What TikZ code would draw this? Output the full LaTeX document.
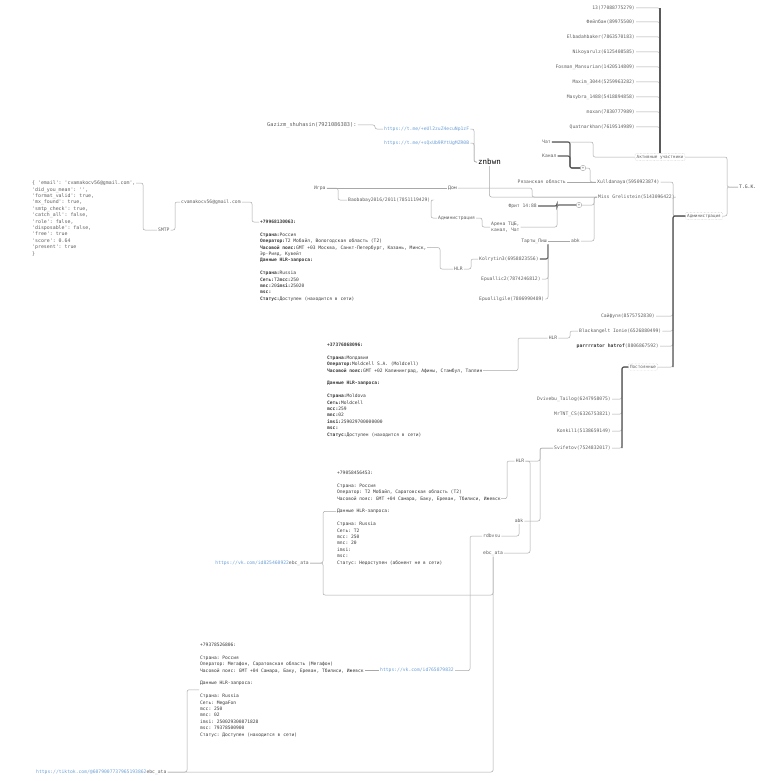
\documentclass[tikz,border=0pt]{standalone}
\usepackage{fontspec}
\setmonofont{DejaVu Sans Mono}
\usetikzlibrary{calc}

\definecolor{wirec}{HTML}{A8A8A8}
\definecolor{hotc}{HTML}{5A5A5A}
\definecolor{linkc}{HTML}{6C9FD6}
\definecolor{namec}{HTML}{606060}
\definecolor{cardc}{HTML}{3A3A3A}

\newcommand{\monosz}[1]{\ttfamily\fontsize{#1}{6.4}\selectfont}

\tikzset{
  wire/.style={draw=wirec, line width=0.5pt, rounded corners=2pt},
  hot/.style={draw=hotc, line width=1.2pt, rounded corners=2pt},
  lbl/.style={inner sep=1pt, text=namec, font=\monosz{4.7}},
  url/.style={lbl, text=linkc},
  grp/.style={lbl, draw=gray!50, densely dotted, rounded corners=1pt, inner sep=1.6pt, font=\monosz{4.3}},
  card/.style={inner sep=1pt, anchor=north west, align=left, text=cardc, font=\monosz{4.6}},
  joint/.style={circle, draw=wirec, inner sep=0pt, minimum size=5.5pt, text=namec, font=\monosz{4}},
  bus/.style={to path={-- (#1 |- \tikztostart) |- (\tikztotarget)}},
  hv/.style={to path={-| (\tikztotarget)}},
  vh/.style={to path={|- (\tikztotarget)}},
}

\begin{document}
\begin{tikzpicture}[x=1pt, y=-1pt, every edge/.append style={wire}]
\useasboundingbox (0,0) rectangle (779,781);

% x of the vertical runs
\coordinate (xR) at (727,0);
\coordinate (xK) at (593,0);
\coordinate (xC) at (570,0);
\coordinate (xX) at (590,0);
\coordinate (xA) at (673,0);
\coordinate (xM) at (594,0);
\coordinate (xN) at (532,0);
\coordinate (xF) at (557,0);
\coordinate (xD) at (482,0);
\coordinate (xB) at (431,0);
\coordinate (xG) at (338,0);
\coordinate (xL) at (375,0);
\coordinate (xZ) at (474,0);
\coordinate (xJ) at (143,0);
\coordinate (xS) at (175,0);
\coordinate (xE) at (252,0);
\coordinate (xH) at (440,0);
\coordinate (xI) at (471,0);
\coordinate (xQ) at (518,0);
\coordinate (xW) at (570,0);
\coordinate (xP) at (622,0);
\coordinate (xV) at (540,0);
\coordinate (xY) at (507,0);
\coordinate (xU) at (530,0);
\coordinate (xO) at (470,0);
\coordinate (xT) at (323,0);
\coordinate (xTT) at (187,0);

% chat members
\node[lbl, anchor=east] (n1) at (636,8) {13(77088775279)};
\node[lbl, anchor=east] (n2) at (636,22) {Фейлбан(89975500)};
\node[lbl, anchor=east] (n3) at (636,37) {Elbadahbaker(7863570183)};
\node[lbl, anchor=east] (n4) at (636,52) {Nikoyarulz(6125408585)};
\node[lbl, anchor=east] (n5) at (636,67) {Fosman\_Mansurian(1420514809)};
\node[lbl, anchor=east] (n6) at (636,82) {Maxim\_3044(5259963282)};
\node[lbl, anchor=east] (n7) at (636,97) {Masybra\_1488(5418894858)};
\node[lbl, anchor=east] (n8) at (636,112) {moxan(7830777989)};
\node[lbl, anchor=east] (n9) at (636,127) {Quatnarkhan(7619514989)};

\node[grp] (akt) at (660,157) {Активные участники};
\node[lbl, anchor=west, text=black!75] (root) at (738,187) {T.G.K.};
\node[grp] (adm2) at (704,216) {Администрация};

\node[lbl, anchor=west] (chat) at (541,142) {Чат};
\node[lbl, anchor=west] (canal) at (541,156) {Канал};
\node[joint] (plus1) at (583,168) {+};
\node[lbl, anchor=east] (ryaz) at (567,182) {Рязанская область};
\node[lbl, anchor=west] (xul) at (596,182) {Xulldanaya(5950923874)};
\node[lbl, anchor=west] (miss) at (597,197) {Miss Grelistein(5143096422)};
\node[joint] (plus2) at (579,205) {+};
\node[lbl, anchor=east] (frit) at (538,206) {Фрит 14:88};
\node[lbl, anchor=west, align=left] (arena) at (490,227) {Арена ТЦБ,\\канал, Чат};
\node[lbl, anchor=west] (adm1) at (437,218) {Администрация};
\node[lbl, anchor=west] (baob) at (347,200) {Baobabay2016/2011(7851119429)};
\node[lbl, anchor=west] (game) at (313,188) {Игра};
\node[lbl, anchor=west] (dom) at (447,188) {Дом};

\node[anchor=west, inner sep=1pt, font=\monosz{7.5}] (znb) at (477,162) {znbwn};
\node[lbl, anchor=west, font=\monosz{5.3}] (gaz) at (266,125) {Gazizm\_shuhasin(7921086383):};
\node[url, anchor=west] (link1) at (383,129) {https://t.me/+eUl2zuZ4ecuNp1zF};
\node[url, anchor=west] (link2) at (383,143) {https://t.me/+sQxUb9RYtUgMZR0B};

% e-mail check
\node[card, font=\monosz{4.9}, text=namec] (json) at (31,179.8) {\{ 'email': 'cvamakocv56@gmail.com',\\
'did\_you\_mean': '',\\
'format\_valid': true,\\
'mx\_found': true,\\
'smtp\_check': true,\\
'catch\_all': false,\\
'role': false,\\
'disposable': false,\\
'free': true\\
'score': 0.64\\
'present': true\\
\}};
\coordinate (jend) at (136,183);
\node[lbl, anchor=west] (smtp) at (157,230) {SMTP};
\node[lbl, anchor=west] (email) at (180,202) {cvamakocv56@gmail.com};

% phone cards
\node[card] (blk1) at (259,218.8) {\textbf{+79968130063:}\\[6.4pt]
\textbf{Страна:}Россия\\
\textbf{Оператор:}T2 Мобайл, Вологодская область (T2)\\
\textbf{Часовой пояс:}GMT +03 Москва, Санкт-Петербург, Казань, Минск,\\
Эр-Рияд, Кувейт\\
\textbf{Данные HLR-запроса:}\\[6.4pt]
\textbf{Страна:}Russia\\
\textbf{Сеть:}T2\textbf{mcc:}250\\
\textbf{mnc:}20\textbf{imsi:}25020\\
\textbf{msc:}\\
\textbf{Статус:}Доступен (находится в сети)};
\coordinate (b1top) at (259,222);
\coordinate (b1tz) at (427,247.6);

\node[card] (blk2) at (326,341.8) {\textbf{+37376868096:}\\[6.4pt]
\textbf{Страна:}Молдавия\\
\textbf{Оператор:}Moldcell S.A. (Moldcell)\\
\textbf{Часовой пояс:}GMT +02 Калининград, Афины, Стамбул, Таллин\\[6.4pt]
\textbf{Данные HLR-запроса:}\\[6.4pt]
\textbf{Страна:}Moldova\\
\textbf{Сеть:}Moldcell\\
\textbf{mcc:}259\\
\textbf{mnc:}02\\
\textbf{imsi:}259029700000000\\
\textbf{msc:}\\
\textbf{Статус:}Доступен (находится в сети)};
\coordinate (b2tz) at (483,370.6);

\node[card] (blk3) at (336,469.8) {+79058456453:\\[6.4pt]
Страна: Россия\\
Оператор: T2 Мобайл, Саратовская область (T2)\\
Часовой пояс: GMT +04 Самара, Баку, Ереван, Тбилиси, Ижевск\\[6.4pt]
Данные HLR-запроса:\\[6.4pt]
Страна: Russia\\
Сеть: T2\\
mcc: 250\\
mnc: 20\\
imsi:\\
msc:\\
Статус: Недоступен (абонент не в сети)};
\coordinate (b3tz) at (501,498.6);
\coordinate (b3mid) at (336,511.4);

\node[card] (blk4) at (199,641.8) {+79378526806:\\[6.4pt]
Страна: Россия\\
Оператор: Мегафон, Саратовская область (Мегафон)\\
Часовой пояс: GMT +04 Самара, Баку, Ереван, Тбилиси, Ижевск\\[6.4pt]
Данные HLR-запроса:\\[6.4pt]
Страна: Russia\\
Сеть: MegaFon\\
mcc: 250\\
mnc: 02\\
imsi: 250029300871828\\
msc: 79378500900\\
Статус: Доступен (находится в сети)};
\coordinate (b4tz) at (364.5,670.6);
\coordinate (b4mid) at (199,689.8);

\node[lbl, anchor=west] (hlr1) at (453,269) {HLR};
\node[lbl, anchor=west] (kol) at (478,259) {Kolrytin3(6958823556)};
\node[lbl, anchor=west] (ep1) at (480,279) {Epuallic2(7874246812)};
\node[lbl, anchor=west] (ep2) at (478,299) {Epuolilgile(7806990489)};
\node[lbl, anchor=east] (tar) at (548,241) {Тарты\_Пиш};
\node[lbl, anchor=west] (abk) at (570,241) {abk};

\node[lbl, anchor=east] (saif) at (656,316) {Сайфуля(8575752830)};
\node[lbl, anchor=west] (black) at (578,331) {Blackangelt Ionie(6526880499)};
\node[lbl, anchor=east] (parr) at (660,346) {\textbf{\color{cardc}parrrrator hatrof}(8806867592)};
\node[grp] (post) at (643,367) {Постоянные};
\node[lbl] (hlr2) at (553,338) {HLR};

\node[lbl, anchor=east] (dv) at (612,399) {Dvivebu\_Tailog(6247958075)};
\node[lbl, anchor=east] (mr) at (612,414) {MrTNT\_CS(6326753821)};
\node[lbl, anchor=east] (kon) at (612,431) {Konkil1(5138659149)};
\node[lbl, anchor=east] (svi) at (612,448) {Svifetov(7524832017)};

\node[lbl] (hlr3) at (520,461) {HLR};
\node[lbl] (abk2) at (519,521) {abk};
\node[lbl, anchor=west] (rdb) at (482,536) {rdbvsu};
\node[lbl, anchor=west] (ebc) at (482,553) {ebc\_ata};
\coordinate (ebcx) at (493,595);

\node[url, anchor=east] (vk1) at (310,563) {https://vk.com/id825460922\textcolor{namec}{ebc\_ata}};
\node[url, anchor=east] (vk2) at (455,670.6) {https://vk.com/id765879832};
\node[url, anchor=west] (tt) at (35,772) {https://tiktok.com/@6079007737965193862\textcolor{namec}{ebc\_ata}};

\path
  (n1.east) edge[hv] (akt.north)
  (n2.east) edge[hv] (akt.north)
  (n3.east) edge[hv] (akt.north)
  (n4.east) edge[hv] (akt.north)
  (n5.east) edge[hv] (akt.north)
  (n6.east) edge[hv] (akt.north)
  (n7.east) edge[hv] (akt.north)
  (n8.east) edge[hv] (akt.north)
  (n9.east) edge[hv] (akt.north)
  (akt.east) edge[bus=xR] (root.west)
  (adm2.east) edge[bus=xR] (root.west)
  (chat.east) edge[bus=xK] (akt.west)
  (chat.east) edge[hot, bus=xC] (plus1.west)
  (canal.east) edge[hot, bus=xC] (plus1.west)
  (plus1.east) edge[bus=xX] (xul.west)
  (ryaz.east) edge (xul.west)
  (xul.east) edge[bus=xA] (adm2.west)
  (miss.east) edge[bus=xA] (adm2.west)
  (saif.east) edge[bus=xA] (adm2.west)
  (black.east) edge[bus=xA] (adm2.west)
  (parr.east) edge[bus=xA] (adm2.west)
  (post.east) edge[bus=xA] (adm2.west)
  (plus2.east) edge[bus=xM] (miss.west)
  (abk.east) edge[bus=xM] (miss.west)
  (dom.east) edge[bus=xN] (miss.west)
  (znb.south) edge[vh] (miss.west)
  (frit.east) edge[hot, bus=xF] (plus2.west)
  (arena.east) edge[bus=xF] (plus2.west)
  (adm1.east) edge[bus=xD] (arena.west)
  (baob.east) edge[bus=xB] (adm1.west)
  (game.east) edge[bus=xG] (baob.west)
  (game.east) edge (dom.west)
  (gaz.east) edge[bus=xL] (link1.west)
  (link1.east) edge[bus=xZ] (znb.west)
  (link2.east) edge[bus=xZ] (znb.west)
  (jend) edge[bus=xJ] (smtp.west)
  (smtp.east) edge[bus=xS] (email.west)
  (email.east) edge[bus=xE] (b1top)
  (b1tz) edge[bus=xH] (hlr1.west)
  (hlr1.east) edge[bus=xI] (kol.west)
  (kol.east) edge[hot, hv] (tar.south east)
  (ep1.east) edge[hv] (tar.south east)
  (ep2.east) edge[hv] (tar.south east)
  (tar.east) edge (abk.west)
  (hlr2.west) edge[bus=xQ] (b2tz)
  (black.west) edge[bus=xW] (hlr2.east)
  (dv.east) edge[bus=xP] (post.west)
  (mr.east) edge[bus=xP] (post.west)
  (kon.east) edge[bus=xP] (post.west)
  (svi.east) edge[bus=xP] (post.west)
  (svi.west) edge[bus=xV] (hlr3.east)
  (svi.west) edge[bus=xV] (abk2.east)
  (hlr3.west) edge[bus=xY] (b3tz)
  (ebc.east) edge[bus=xU] (hlr3.east)
  (rdb.east) edge[hv] (abk2.south)
  (rdb.west) edge[bus=xO] (vk2.east)
  (vk2.west) edge (b4tz)
  (vk1.east) edge[bus=xT] (b3mid)
  (tt.east) edge[hv] (ebc.south)
  (tt.east) edge[bus=xTT] (b4mid);
\draw[wire] (vk1.east) -- (xT |- vk1.east) |- (ebcx) -- (ebc.south);

% trunks
\draw[hot] (akt.north) -- (akt.north |- n1.east);
\draw[hot] (adm2.west) -| (xA |- post.east);
\draw[hot] (post.west) -| (xP |- svi.east);
\end{tikzpicture}
\end{document}
